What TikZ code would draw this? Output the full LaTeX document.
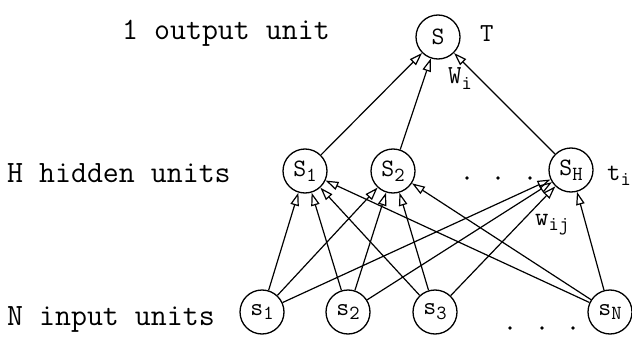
\documentclass[tikz,border=0pt]{standalone}
\usetikzlibrary{arrows.meta}
% lowered index set in a smaller size
\newcommand{\lowidx}[1]{\raisebox{-0.45ex}{\fontsize{20}{20}\selectfont #1}}

\begin{document}
\begin{tikzpicture}[x=1pt,y=-1pt,
  unit/.style={circle,draw,line width=1.3pt,minimum size=44pt,inner sep=0pt,
               font=\ttfamily\fontsize{25}{25}\selectfont},
  lbl/.style={font=\ttfamily\fontsize{31}{31}\selectfont,inner sep=0pt,anchor=base west},
  sym/.style={font=\ttfamily\fontsize{26}{26}\selectfont,inner sep=0pt,anchor=base west},
  link/.style={line width=1.2pt,-{Triangle[open,length=13pt,width=8.5pt,line width=1.2pt]}},
  dotmark/.style={circle,fill,inner sep=0pt,minimum size=3.8pt}]
\useasboundingbox (0,0) rectangle (632,337);

% layer captions
\node[lbl] (capO) at (122,40) {1 output unit};
\node[lbl] (capH) at (7,182) {H hidden units};
\node[lbl] (capN) at (7,325) {N input units};

% units
\node[unit] (out) at (438,37) {S};
\node[unit] (h1) at (305,171) {S\lowidx{1}};
\node[unit] (h2) at (393,171) {S\lowidx{2}};
\node[unit] (hH) at (571,170) {S\lowidx{H}};
\node[unit] (i1) at (262,312) {s\lowidx{1}};
\node[unit] (i2) at (348,312) {s\lowidx{2}};
\node[unit] (i3) at (435,312) {s\lowidx{3}};
\node[unit] (iN) at (610,312) {s\lowidx{N}};

% symbols beside the units
\node[sym] (tT) at (480,42) {T};
\node[sym] (tW) at (448,84) {W\lowidx{i}};
\node[sym] (tt) at (607,180) {t\lowidx{i}};
\node[sym] (tw) at (535,225) {w\lowidx{ij}};

% ellipsis dots
\node[dotmark] (d1) at (467,178) {};
\node[dotmark] (d2) at (498,178) {};
\node[dotmark] (d3) at (530,178) {};
\node[dotmark] (e1) at (510,328) {};
\node[dotmark] (e2) at (542,328) {};
\node[dotmark] (e3) at (573,328) {};

% hidden to output
\foreach \h in {h1,h2,hH} \draw[link] (\h) -- (out);

% input to hidden, fully connected
\foreach \i in {i1,i2,i3,iN}
  \foreach \h in {h1,h2,hH}
    \draw[link] (\i) -- (\h);
\end{tikzpicture}
\end{document}
